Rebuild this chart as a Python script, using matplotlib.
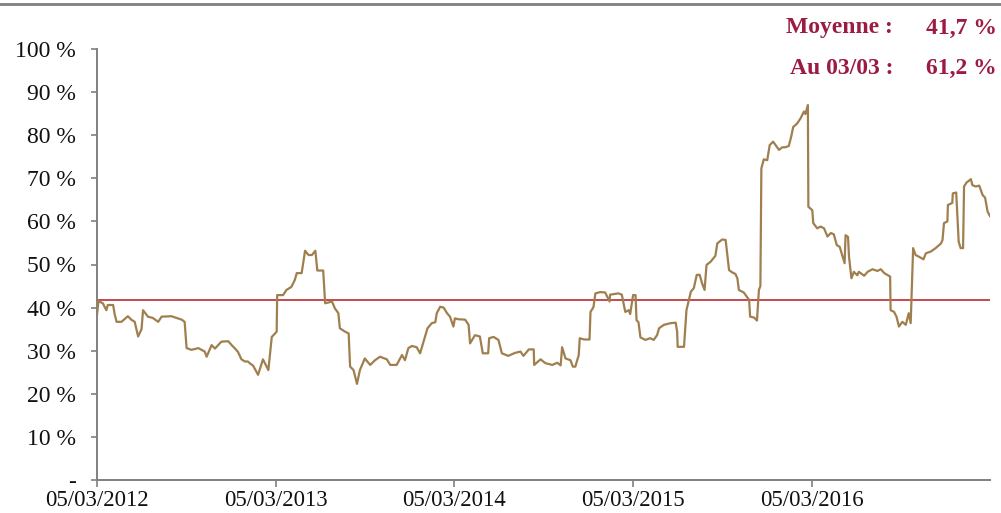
import matplotlib

matplotlib.use("Agg")
import matplotlib.dates as mdates
import matplotlib.pyplot as plt
import pandas as pd
from matplotlib.lines import Line2D

# --- data: level (%), x as days since 05/03/2012 ---
START = "2012-03-05"
END = "2017-03-03"
DAY_OFFSETS = [
    0, 3, 12, 19, 22, 33, 36, 40, 50, 63,
    70, 77, 84, 91, 94, 104, 114, 125, 132, 152,
    173, 179, 183, 193, 207, 220, 224, 234, 241, 254,
    268, 275, 282, 288, 295, 302, 308, 312, 319, 329,
    339, 350, 357, 367, 368, 380, 387, 397, 404, 408,
    418, 425, 432, 439, 446, 450, 462, 466, 480, 486,
    493, 496, 507, 514, 517, 524, 531, 537, 547, 558,
    568, 578, 592, 599, 612, 623, 629, 636, 643, 653,
    660, 667, 675, 684, 691, 694, 701, 708, 715, 721,
    728, 731, 738, 752, 759, 762, 772, 782, 788, 799,
    801, 810, 820, 827, 840, 854, 865, 871, 882, 892,
    893, 906, 916, 930, 940, 947, 950, 957, 967, 972,
    977, 984, 986, 995, 1006, 1008, 1014, 1018, 1028, 1038,
    1047, 1048, 1065, 1072, 1079, 1086, 1089, 1095, 1100, 1102,
    1106, 1110, 1120, 1130, 1137, 1144, 1148, 1158, 1172, 1182,
    1185, 1186, 1199, 1204, 1209, 1213, 1219, 1225, 1231, 1236,
    1241, 1245, 1253, 1263, 1267, 1277, 1284, 1291, 1297, 1304,
    1308, 1311, 1321, 1332, 1334, 1342, 1348, 1352, 1355, 1357,
    1362, 1369, 1374, 1381, 1386, 1393, 1400, 1406, 1413, 1418,
    1422, 1430, 1437, 1444, 1447, 1452, 1453, 1461, 1463, 1471,
    1478, 1485, 1492, 1499, 1505, 1511, 1517, 1522, 1527, 1529,
    1534, 1536, 1541, 1546, 1553, 1556, 1567, 1574, 1584, 1594,
    1601, 1608, 1614, 1620, 1621, 1628, 1633, 1638, 1645, 1652,
    1658, 1662, 1667, 1672, 1679, 1688, 1693, 1703, 1713, 1724,
    1727, 1730, 1737, 1738, 1747, 1748, 1755, 1757, 1760, 1764,
    1769, 1771, 1776, 1785, 1788, 1795, 1802, 1809, 1814, 1819, 1824,
]
LEVEL_PCT = [
    38.3, 41.5, 41.0, 39.4, 40.6, 40.6, 38.5, 36.7, 36.7, 38.0,
    37.2, 36.7, 33.3, 35.0, 39.4, 37.9, 37.6, 36.7, 37.9, 38.0,
    37.2, 36.7, 30.6, 30.2, 30.6, 29.8, 28.6, 31.3, 30.5, 32.1,
    32.2, 31.3, 30.5, 29.7, 28.0, 27.5, 27.5, 27.1, 26.5, 24.4,
    28.0, 25.5, 33.2, 34.4, 42.9, 42.9, 44.1, 44.8, 46.4, 48.0,
    48.0, 53.2, 52.2, 52.2, 53.2, 48.6, 48.6, 41.0, 41.4, 39.8,
    38.7, 35.2, 34.4, 34.0, 26.3, 25.5, 22.3, 25.5, 28.2, 26.7,
    27.8, 28.6, 28.0, 26.7, 26.7, 29.0, 27.8, 30.6, 31.1, 30.8,
    29.4, 32.1, 35.2, 36.4, 36.6, 38.7, 40.2, 40.0, 38.7, 37.9,
    35.6, 37.5, 37.3, 37.2, 36.0, 31.7, 33.6, 33.3, 29.4, 29.4,
    32.9, 33.2, 32.5, 29.4, 28.8, 29.5, 29.8, 28.8, 30.3, 30.3,
    26.7, 28.0, 27.1, 26.7, 27.2, 26.6, 30.8, 28.2, 27.8, 26.3,
    26.3, 29.0, 32.9, 32.6, 32.6, 39.0, 40.1, 43.3, 43.6, 43.5,
    41.4, 43.0, 43.3, 43.0, 39.0, 39.4, 38.5, 42.9, 42.9, 37.1,
    36.6, 33.1, 32.5, 32.9, 32.5, 33.6, 35.2, 36.0, 36.4, 36.5,
    34.4, 30.9, 30.9, 39.4, 41.8, 43.7, 44.5, 47.6, 47.6, 45.6,
    44.1, 49.9, 50.6, 52.0, 54.9, 55.8, 55.7, 48.7, 48.2, 47.8,
    46.8, 44.1, 43.5, 41.8, 37.9, 37.7, 37.0, 44.1, 45.0, 72.3,
    74.4, 74.2, 77.7, 78.5, 77.7, 76.6, 77.2, 77.2, 77.5, 79.7,
    81.9, 82.7, 83.9, 85.5, 84.9, 87.0, 63.4, 62.6, 59.6, 58.4,
    58.8, 58.4, 56.5, 57.3, 57.0, 54.5, 54.1, 52.2, 50.3, 56.8,
    56.4, 51.8, 46.8, 48.3, 47.5, 48.3, 47.4, 48.3, 48.9, 48.5,
    48.9, 48.0, 47.6, 47.2, 39.4, 39.0, 37.9, 35.6, 36.7, 36.0,
    38.7, 36.4, 53.8, 52.2, 51.8, 51.2, 52.6, 53.0, 53.8, 54.9,
    55.7, 59.6, 60.0, 63.8, 64.3, 66.5, 66.7, 62.0, 55.3, 53.8,
    53.8, 68.1, 69.0, 69.8, 68.4, 68.1, 68.3, 66.1, 65.5, 62.3, 61.2,
]
MEAN_PCT = 41.7
LAST_PCT = 61.2
LAST_LABEL = "Au 03/03 :"

X_TICKS = ["2012-03-05", "2013-03-05", "2014-03-05", "2015-03-05", "2016-03-05"]
Y_TICKS = [0, 10, 20, 30, 40, 50, 60, 70, 80, 90, 100]
Y_TICK_LABELS = ["-"] + [f"{v} %" for v in Y_TICKS[1:]]

LINE_COLOR = "#A07F4F"
MEAN_COLOR = "#C44A4E"
TEXT_RED = "#9B1B42"
AXIS_GRAY = "#808080"

plt.rcParams["font.family"] = ["Liberation Serif", "DejaVu Serif"]

dates = pd.Timestamp(START) + pd.to_timedelta(DAY_OFFSETS, unit="D")

W, H = 1001, 513
fig = plt.figure(figsize=(W / 100, H / 100), dpi=100)
ax = fig.add_axes([97 / W, 33 / H, (990 - 97) / W, (480 - 49) / H])

ax.plot(dates, LEVEL_PCT, color=LINE_COLOR, lw=1.6, zorder=3)
ax.axhline(MEAN_PCT, color=MEAN_COLOR, lw=1.4, zorder=2)

ax.set_xlim(pd.Timestamp(START), pd.Timestamp(END))
ax.set_ylim(0, 100)
ax.set_yticks(Y_TICKS)
ax.set_yticklabels(Y_TICK_LABELS)
ax.set_xticks([pd.Timestamp(d) for d in X_TICKS])
ax.xaxis.set_major_formatter(mdates.DateFormatter("%d/%m/%Y"))

for side in ("top", "right"):
    ax.spines[side].set_visible(False)
for side in ("left", "bottom"):
    ax.spines[side].set_color(AXIS_GRAY)
    ax.spines[side].set_linewidth(1.4)
ax.tick_params(axis="y", length=4, width=1.2, color=AXIS_GRAY, pad=11,
               labelsize=17, labelcolor="#111111")
ax.tick_params(axis="x", length=5, width=1.2, color=AXIS_GRAY, pad=2,
               labelsize=16.5, labelcolor="#111111")

# thin rule across the top of the figure
fig.add_artist(Line2D([0, 1], [1 - 3.5 / H, 1 - 3.5 / H], transform=fig.transFigure,
                      color=AXIS_GRAY, lw=2))

def fmt(v):
    return f"{v:.1f}".replace(".", ",") + " %"

fig.text(893 / W, 1 - 28 / H, "Moyenne :", ha="right", va="center",
         color=TEXT_RED, fontsize=17, fontweight="bold")
fig.text(997 / W, 1 - 28 / H, fmt(MEAN_PCT), ha="right", va="center",
         color=TEXT_RED, fontsize=17, fontweight="bold")
fig.text(893 / W, 1 - 68 / H, LAST_LABEL, ha="right", va="center",
         color=TEXT_RED, fontsize=17, fontweight="bold")
fig.text(997 / W, 1 - 68 / H, fmt(LAST_PCT), ha="right", va="center",
         color=TEXT_RED, fontsize=17, fontweight="bold")

fig.savefig("out.png", dpi=100)
